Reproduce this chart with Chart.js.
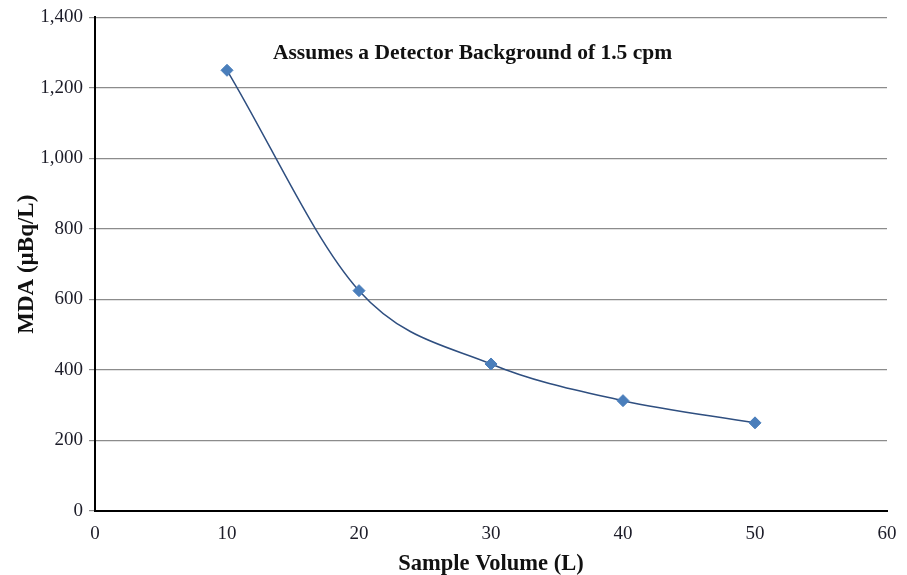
<!DOCTYPE html>
<html>
<head>
<meta charset="utf-8">
<script src="https://cdn.jsdelivr.net/npm/chart.js@4/dist/chart.umd.min.js"></script>
<style>
  html, body { margin: 0; padding: 0; background: #fff; overflow: hidden; }
</style>
</head>
<body>
<canvas id="mda-chart" width="907" height="575"></canvas>
<script>
// data
const sampleVolume = [10, 20, 30, 40, 50];
const mdaValues = [1250, 625, 417, 313, 250];
const xTicks = [0, 10, 20, 30, 40, 50, 60];
const yTicks = [0, 200, 400, 600, 800, 1000, 1200, 1400];
const note = "Assumes a Detector Background of 1.5 cpm";

const serif = "'Liberation Serif', 'Times New Roman', serif";

// note text inside the plot
const notePlugin = {
  id: "note",
  afterDraw(chart) {
    const ctx = chart.ctx;
    const x = chart.scales.x.getPixelForValue(28.6);
    const y = chart.scales.y.getPixelForValue(1298);
    ctx.save();
    ctx.font = "bold 21.5px " + serif;
    ctx.fillStyle = "#111";
    ctx.textAlign = "center";
    ctx.textBaseline = "middle";
    ctx.fillText(note, x, y);
    ctx.restore();
  },
};

new Chart(document.querySelector("#mda-chart").getContext("2d"), {
  type: "line",
  data: {
    datasets: [
      {
        label: "MDA",
        data: sampleVolume.map((v, i) => ({ x: v, y: mdaValues[i] })),
        borderColor: "#2f4f80",
        borderWidth: 1.5,
        cubicInterpolationMode: "monotone",
        pointStyle: "rectRot",
        pointRadius: 6,
        pointBackgroundColor: "#4a7ebb",
        pointBorderColor: "#4a7ebb",
        pointBorderWidth: 1,
      },
    ],
  },
  options: {
    responsive: false,
    animation: false,
    devicePixelRatio: 1,
    layout: { padding: { top: 17, right: 20, left: 0, bottom: 0 } },
    plugins: { legend: { display: false }, tooltip: { enabled: false } },
    scales: {
      x: {
        type: "linear",
        min: 0,
        max: 60,
        afterBuildTicks: (s) => { s.ticks = xTicks.map((v) => ({ value: v })); },
        afterFit: (s) => { s.height = 64; },
        grid: { display: false },
        border: { display: true, color: "#000", width: 2 },
        ticks: { color: "#1c1c28", font: { family: serif, size: 19 }, padding: 4, maxRotation: 0, autoSkip: false },
        title: {
          display: true,
          text: "Sample Volume (L)",
          color: "#111",
          font: { family: serif, size: 22.5, weight: "bold", lineHeight: 1.0 },
          padding: { top: 0, bottom: 0 },
        },
      },
      y: {
        type: "linear",
        min: 0,
        max: 1400,
        afterBuildTicks: (s) => { s.ticks = yTicks.map((v) => ({ value: v })); },
        afterFit: (s) => { s.width = 95; },
        grid: { color: "#8c8c8c", lineWidth: 1.2, tickLength: 6 },
        border: { display: true, color: "#000", width: 2 },
        ticks: {
          color: "#1c1c28",
          font: { family: serif, size: 19 },
          padding: 6,
          autoSkip: false,
          callback: (v) => v.toLocaleString("en-US"),
        },
        title: {
          display: true,
          text: "MDA (µBq/L)",
          color: "#111",
          font: { family: serif, size: 23, weight: "bold" },
          padding: { top: 13, bottom: 0 },
        },
      },
    },
  },
  plugins: [notePlugin],
});
</script>
</body>
</html>
